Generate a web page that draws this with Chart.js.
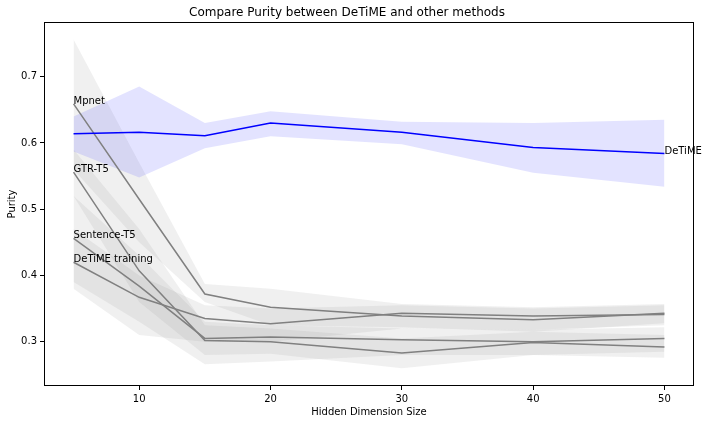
<!DOCTYPE html>
<html lang="en">
<head>
  <meta charset="UTF-8" />
  <title>Compare Purity between DeTiME and other methods</title>
  <script src="https://cdn.jsdelivr.net/npm/chart.js"></script>
  <style>
    html, body { margin: 0; padding: 0; background: #fff; }
    #wrap { width: 708px; height: 424px; }
  </style>
</head>
<body>
  <div id="wrap"><canvas id="purityChart" width="708" height="424"></canvas></div>

  <script>
    // hidden dimension sizes
    const dims = [5, 10, 15, 20, 30, 40, 50];
    const xTicks = [10, 20, 30, 40, 50];
    const yTicks = [0.3, 0.4, 0.5, 0.6, 0.7];

    // DeTiME (blue)
    const detimeMean  = [0.614, 0.616, 0.611, 0.630, 0.616, 0.593, 0.584];
    const detimeUpper = [0.640, 0.685, 0.630, 0.648, 0.632, 0.630, 0.635];
    const detimeLower = [0.587, 0.548, 0.592, 0.610, 0.598, 0.555, 0.534];

    // other methods (grey)
    const mpnetMean  = [0.659, 0.515, 0.372, 0.352, 0.339, 0.333, 0.343];
    const mpnetUpper = [0.756, 0.570, 0.387, 0.380, 0.357, 0.352, 0.357];
    const mpnetLower = [0.560, 0.450, 0.360, 0.325, 0.322, 0.315, 0.328];

    const gtrMean  = [0.556, 0.407, 0.302, 0.300, 0.283, 0.299, 0.292];
    const gtrUpper = [0.590, 0.470, 0.325, 0.320, 0.305, 0.315, 0.310];
    const gtrLower = [0.520, 0.360, 0.280, 0.282, 0.260, 0.280, 0.276];

    const st5Mean  = [0.456, 0.384, 0.305, 0.307, 0.303, 0.300, 0.305];
    const st5Upper = [0.520, 0.430, 0.330, 0.325, 0.320, 0.318, 0.322];
    const st5Lower = [0.390, 0.330, 0.266, 0.270, 0.280, 0.280, 0.285];

    const trainMean  = [0.420, 0.367, 0.335, 0.327, 0.343, 0.339, 0.341];
    const trainUpper = [0.470, 0.400, 0.355, 0.350, 0.355, 0.350, 0.355];
    const trainLower = [0.380, 0.310, 0.300, 0.300, 0.320, 0.318, 0.325];

    const seriesNames = ['DeTiME', 'Mpnet', 'GTR-T5', 'Sentence-T5', 'DeTiME training'];

    const series = [
      { name: seriesNames[0], mean: detimeMean, upper: detimeUpper, lower: detimeLower, line: '#0000ff', band: 'rgba(0,0,255,0.11)', labelAt: 'end' },
      { name: seriesNames[1], mean: mpnetMean, upper: mpnetUpper, lower: mpnetLower, line: '#808080', band: 'rgba(128,128,128,0.12)', labelAt: 'start' },
      { name: seriesNames[2], mean: gtrMean, upper: gtrUpper, lower: gtrLower, line: '#808080', band: 'rgba(128,128,128,0.12)', labelAt: 'start' },
      { name: seriesNames[3], mean: st5Mean, upper: st5Upper, lower: st5Lower, line: '#808080', band: 'rgba(128,128,128,0.12)', labelAt: 'start' },
      { name: seriesNames[4], mean: trainMean, upper: trainUpper, lower: trainLower, line: '#808080', band: 'rgba(128,128,128,0.12)', labelAt: 'start' }
    ];

    const pts = arr => arr.map((v, i) => ({ x: dims[i], y: v }));

    const datasets = [];
    series.forEach(s => {
      datasets.push({ label: s.name + ' upper', data: pts(s.upper), borderWidth: 0, pointRadius: 0,
        backgroundColor: s.band, fill: '+1', order: 2 });
      datasets.push({ label: s.name + ' lower', data: pts(s.lower), borderWidth: 0, pointRadius: 0,
        fill: false, order: 2 });
    });
    series.forEach(s => {
      datasets.push({ label: s.name, data: pts(s.mean), borderColor: s.line, borderWidth: 1.5,
        pointRadius: 0, fill: false, order: 0 });
    });

    const font = { family: 'DejaVu Sans', size: 10 };

    // frame + end labels, matplotlib style
    const extras = {
      id: 'extras',
      afterDraw(chart) {
        const { ctx, chartArea: a, scales } = chart;
        ctx.save();
        ctx.strokeStyle = '#000';
        ctx.lineWidth = 1;
        ctx.strokeRect(Math.round(a.left) + 0.5, Math.round(a.top) + 0.5,
          Math.round(a.right - a.left) - 1, Math.round(a.bottom - a.top) - 1);
        ctx.fillStyle = '#000';
        ctx.font = '10px "DejaVu Sans"';
        ctx.textAlign = 'left';
        ctx.textBaseline = 'alphabetic';
        series.forEach(s => {
          const i = s.labelAt === 'end' ? dims.length - 1 : 0;
          ctx.fillText(s.name, scales.x.getPixelForValue(dims[i]), scales.y.getPixelForValue(s.mean[i]));
        });
        ctx.restore();
      }
    };

    new Chart(document.getElementById('purityChart'), {
      type: 'line',
      data: { datasets },
      plugins: [extras],
      options: {
        responsive: false,
        animation: false,
        layout: { padding: { left: 0, right: 14, top: 0, bottom: 0 } },
        plugins: {
          legend: { display: false },
          tooltip: { enabled: false },
          title: {
            display: true,
            text: 'Compare Purity between DeTiME and other methods',
            color: '#000',
            font: { family: 'DejaVu Sans', size: 12, weight: 'normal' },
            padding: { top: 6, bottom: 1.6 }
          }
        },
        scales: {
          x: {
            type: 'linear',
            min: 2.75,
            max: 52.25,
            afterBuildTicks: s => { s.ticks = xTicks.map(v => ({ value: v })); },
            afterFit: s => { s.height = 38; },
            ticks: { color: '#000', font, padding: 3, maxRotation: 0 },
            grid: { drawOnChartArea: false, drawTicks: true, tickLength: 4, color: '#000' },
            border: { display: false },
            title: { display: true, text: 'Hidden Dimension Size', color: '#000', font,
              padding: { top: 0, bottom: 6 } }
          },
          y: {
            type: 'linear',
            min: 0.2332,
            max: 0.7825,
            afterBuildTicks: s => { s.ticks = yTicks.map(v => ({ value: v })); },
            afterFit: s => { s.width = 44; },
            ticks: { color: '#000', font, padding: 3, callback: v => v.toFixed(1) },
            grid: { drawOnChartArea: false, drawTicks: true, tickLength: 4, color: '#000' },
            border: { display: false },
            title: { display: true, text: 'Purity', color: '#000', font,
              padding: { top: 6, bottom: 0 } }
          }
        }
      }
    });
  </script>
</body>
</html>
